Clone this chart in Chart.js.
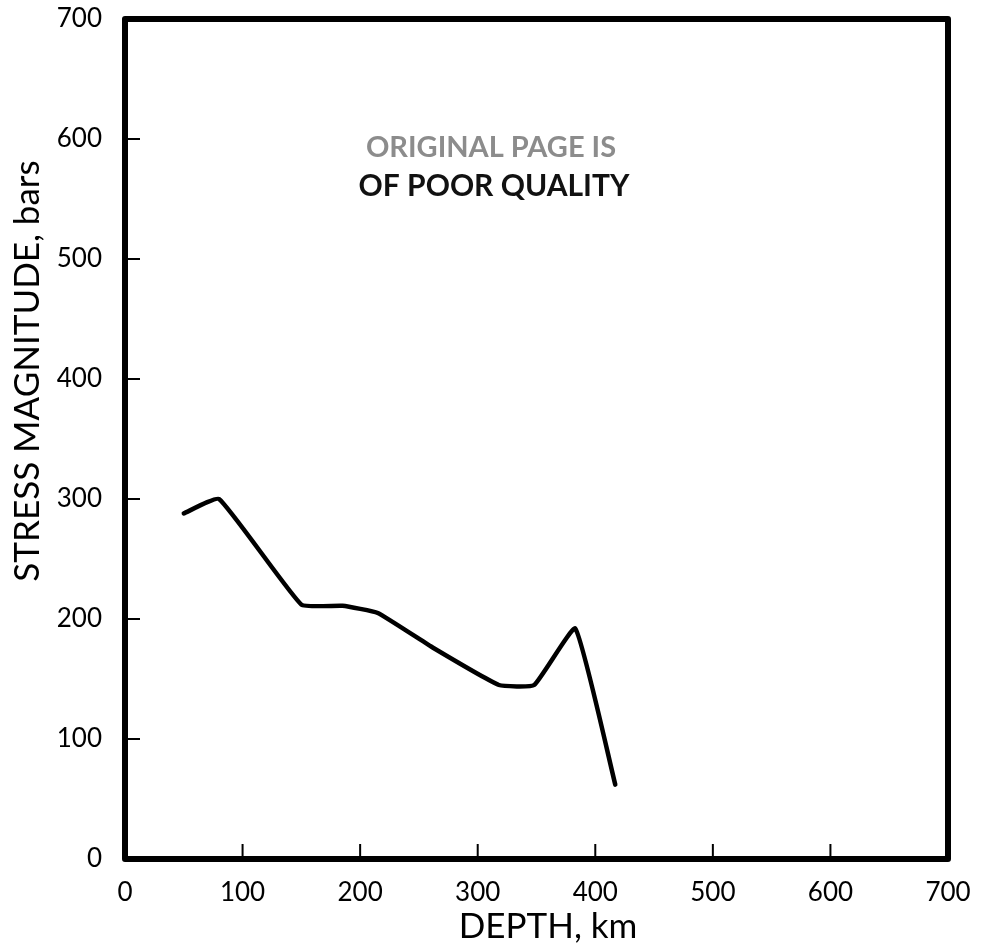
<!DOCTYPE html>
<html>
<head>
<meta charset="utf-8">
<script src="https://cdn.jsdelivr.net/npm/chart.js@4.4.1/dist/chart.umd.min.js"></script>
<style>
  html, body {margin: 0; padding: 0; background: #ffffff;}
  #wrap {width: 999px; height: 950px; position: relative;}
</style>
</head>
<body>
<div id="wrap"><canvas id="stresschart"></canvas></div>
<script>
// Data
const depthKm = [50, 80, 150, 185, 215, 262, 318, 348, 383, 417];
const stressBars = [288, 300, 212, 211, 205, 176, 145, 145, 192, 62];
const xTicks = [0, 100, 200, 300, 400, 500, 600, 700];
const yTicks = [0, 100, 200, 300, 400, 500, 600, 700];
const xTitle = 'DEPTH, km';
const yTitle = 'STRESS MAGNITUDE, bars';
const stampLines = ['ORIGINAL PAGE IS', 'OF POOR QUALITY'];

//Style
const ink = '#000000';
const fontFamily = 'Lato, "DejaVu Sans", sans-serif';
const frameWidth = 6;
const tickMarkLength = 15;
const ctx = document.getElementById('stresschart');

//Frame, inner tick marks, axis titles and the stamp
const figureDrawings = {
    id: 'figureDrawings',
    afterDatasetsDraw(chart) {
        const {ctx, chartArea: {left, top, right, bottom}, scales: {x, y}} = chart;
        ctx.save();
        ctx.strokeStyle = ink;
        ctx.lineJoin = 'round';

        //Frame
        ctx.lineWidth = frameWidth;
        ctx.strokeRect(left, top, right - left, bottom - top);

        //Tick marks pointing inwards
        ctx.lineWidth = 2;
        ctx.beginPath();
        xTicks.slice(1, -1).forEach(v => {
            const px = x.getPixelForValue(v);
            ctx.moveTo(px, bottom);
            ctx.lineTo(px, bottom - tickMarkLength);
        });
        yTicks.slice(1, -1).forEach(v => {
            const py = y.getPixelForValue(v);
            ctx.moveTo(left, py);
            ctx.lineTo(left + tickMarkLength, py);
        });
        ctx.stroke();

        //Axis titles
        ctx.fillStyle = ink;
        ctx.font = '35px ' + fontFamily;
        ctx.textAlign = 'center';
        ctx.textBaseline = 'middle';
        ctx.fillText(xTitle, 548, 927);
        ctx.save();
        ctx.translate(28, 371);
        ctx.rotate(-Math.PI / 2);
        ctx.fillText(yTitle, 0, 0);
        ctx.restore();

        //Stamp
        ctx.font = 'bold 29px ' + fontFamily;
        ctx.fillStyle = '#8c8c8c';
        ctx.fillText(stampLines[0], 491, 148);
        ctx.font = 'bold 30px ' + fontFamily;
        ctx.fillStyle = '#111111';
        ctx.fillText(stampLines[1], 494, 186);

        ctx.restore();
    }
};

const data = {
    labels: depthKm,
    datasets: [{
        label: 'Stress',
        data: depthKm.map((d, i) => ({x: d, y: stressBars[i]})),
        borderColor: ink,
        borderWidth: 4.5,
        borderJoinStyle: 'round',
        borderCapStyle: 'round',
        pointRadius: 0,
        tension: 0.12,
        fill: false,
    }],
};

const tickFont = {family: fontFamily, size: 26};

const config = {
    type: 'line',
    data: data,
    plugins: [figureDrawings],
    options: {
        responsive: true,
        maintainAspectRatio: false,
        animation: false,
        layout: {
            padding: {top: 19, right: 51, left: 0, bottom: 0},
        },
        plugins: {
            legend: {display: false},
            title: {display: false},
            tooltip: {enabled: false},
        },
        scales: {
            x: {
                type: 'linear',
                min: 0,
                max: 700,
                afterBuildTicks: function (scale) {
                    scale.ticks = xTicks.map(v => ({value: v}));
                },
                afterFit: function (scale) {
                    scale.height = 91;
                    scale.paddingLeft = 0;
                    scale.paddingRight = 0;
                },
                grid: {display: false},
                border: {display: false},
                ticks: {
                    color: ink,
                    font: tickFont,
                    padding: 10,
                    maxRotation: 0,
                },
            },
            y: {
                type: 'linear',
                min: 0,
                max: 700,
                afterBuildTicks: function (scale) {
                    scale.ticks = yTicks.map(v => ({value: v}));
                },
                afterFit: function (scale) {
                    scale.width = 125;
                    scale.paddingTop = 0;
                    scale.paddingBottom = 0;
                },
                grid: {display: false},
                border: {display: false},
                ticks: {
                    color: ink,
                    font: tickFont,
                    padding: 15,
                },
            },
        },
    },
};

const stressChart = new Chart(ctx, config);
</script>
</body>
</html>
